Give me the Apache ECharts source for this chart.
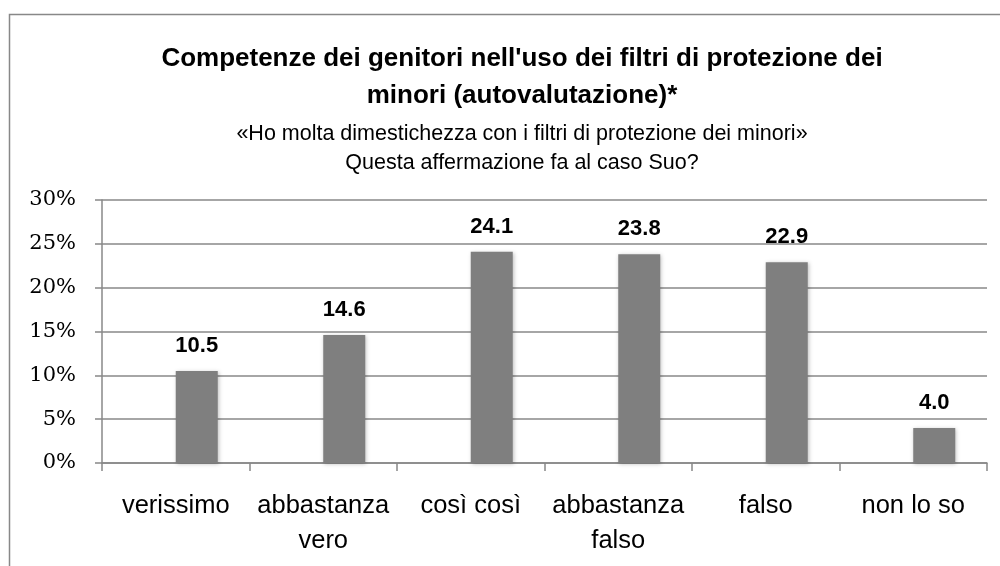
<!DOCTYPE html>
<html>
<head>
<meta charset="utf-8">
<script src="https://cdn.jsdelivr.net/npm/echarts@6/dist/echarts.min.js"></script>
<style>
  html, body { margin: 0; padding: 0; background: #fff; }
  #main { width: 1000px; height: 566px; }
</style>
</head>
<body>
<div id="main"></div>
<script>
// categorie e valori (%)
var categories = ['verissimo', 'abbastanza\nvero', 'così così', 'abbastanza\nfalso', 'falso', 'non lo so'];
var values = [10.5, 14.6, 24.1, 23.8, 22.9, 4.0];
var emptySeries = [0, 0, 0, 0, 0, 0]; // serie vuota: sposta le barre a destra come nell'originale
var yTicks = [0, 5, 10, 15, 20, 25, 30];

var myChart = echarts.init(document.getElementById('main'));

var option = {
    animation: false,
    backgroundColor: '#fff',
    title: {
        text: "Competenze dei genitori nell'uso dei filtri di protezione dei\nminori (autovalutazione)*",
        subtext: '«Ho molta dimestichezza con i filtri di protezione dei minori»\nQuesta affermazione fa al caso Suo?',
        left: 517,
        top: 35,
        textAlign: 'center',
        itemGap: 6,
        textStyle: {
            fontFamily: 'Liberation Sans',
            fontWeight: 'bold',
            fontSize: 26,
            lineHeight: 37,
            color: '#000'
        },
        subtextStyle: {
            fontFamily: 'Liberation Sans',
            fontSize: 21.5,
            lineHeight: 29,
            color: '#000'
        }
    },
    graphic: [{
        type: 'rect',
        left: 7,
        top: 12,
        shape: { width: 1000, height: 600 },
        style: { fill: 'none', stroke: '#888', lineWidth: 1.5 },
        silent: true
    }],
    grid: {
        left: 102,
        right: 13,
        top: 200,
        bottom: 103
    },
    xAxis: {
        type: 'category',
        data: categories,
        axisLine: { lineStyle: { color: '#888', width: 1.5 } },
        axisTick: { show: true, length: 8, lineStyle: { color: '#888', width: 1.5 } },
        axisLabel: {
            interval: 0,
            margin: 25,
            fontFamily: 'Liberation Sans',
            fontSize: 25.5,
            lineHeight: 35,
            color: '#000'
        }
    },
    yAxis: {
        type: 'value',
        min: yTicks[0],
        max: yTicks[yTicks.length - 1],
        interval: 5,
        axisLine: { show: true, lineStyle: { color: '#888', width: 1.5 } },
        axisTick: { show: true, length: 7, lineStyle: { color: '#888', width: 1.5 } },
        splitLine: { lineStyle: { color: '#888', width: 1.5 } },
        axisLabel: {
            margin: 26,
            fontFamily: 'DejaVu Serif',
            fontSize: 21,
            color: '#000',
            formatter: '{value}%'
        }
    },
    series: [{
        type: 'bar',
        data: emptySeries,
        barWidth: 42,
        barGap: '0%',
        itemStyle: { color: 'rgba(0,0,0,0)' },
        silent: true
    }, {
        type: 'bar',
        data: values,
        barWidth: 42,
        barGap: '0%',
        itemStyle: {
            color: '#7f7f7f',
            shadowColor: 'rgba(0,0,0,0.25)',
            shadowBlur: 4,
            shadowOffsetX: 1,
            shadowOffsetY: 1
        },
        label: {
            show: true,
            position: 'top',
            distance: 14,
            fontFamily: 'Liberation Sans',
            fontWeight: 'bold',
            fontSize: 22,
            color: '#000',
            formatter: function (p) { return p.value.toFixed(1); }
        }
    }]
};

myChart.setOption(option);
</script>
</body>
</html>
